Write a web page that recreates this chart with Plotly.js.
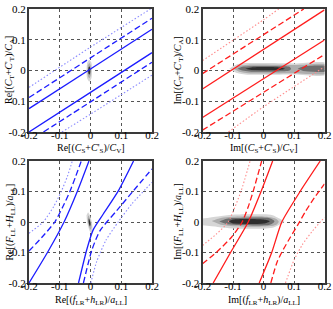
<!DOCTYPE html>
<html>
<head>
<meta charset="utf-8">
<script src="https://cdn.plot.ly/plotly-3.0.1.min.js"></script>
<style>html,body{margin:0;padding:0;background:#fff}#chart{width:333px;height:309px}</style>
</head>
<body>
<div id="chart"></div>
<script>
// ---------- tick labels ----------
const tickVals = [-0.2, -0.1, 0, 0.1, 0.2];
const tickText = ["-0.2", "-0.1", "0", "0.1", "0.2"];

// ---------- Panel 1: Re[(CS+CS')/CV] vs Re[(CT+CT')/CA] ----------
const p1SolidAx = [-0.2, 0, 0.2],     p1SolidAy = [-0.124, 0.005, 0.134];
const p1SolidBx = [-0.2, 0, 0.2],     p1SolidBy = [-0.2, -0.071, 0.058];
const p1DashAx  = [-0.2, 0, 0.2],     p1DashAy  = [-0.088, 0.041, 0.17];
const p1DashBx  = [-0.153, 0, 0.2],   p1DashBy  = [-0.2, -0.102, 0.027];
const p1DotAx   = [-0.2, 0, 0.195],   p1DotAy   = [-0.055, 0.076, 0.2];
const p1DotBx   = [-0.093, 0, 0.2],   p1DotBy   = [-0.2, -0.142, -0.015];
const p1BlobOutX = [-0.004, 0.003, 0.005, 0.003, -0.004, -0.011, -0.013, -0.011];
const p1BlobOutY = [0.036, 0.025, 0, -0.025, -0.036, -0.025, 0, 0.025];
const p1BlobMidX = [-0.004, 0.0005, 0.002, 0.0005, -0.004, -0.0085, -0.010, -0.0085];
const p1BlobMidY = [0.025, 0.017, 0, -0.017, -0.025, -0.017, 0, 0.017];
const p1BlobCoreX = [-0.004, -0.0015, -0.0005, -0.0015, -0.004, -0.0065, -0.0075, -0.0065];
const p1BlobCoreY = [0.014, 0.01, 0, -0.01, -0.014, -0.01, 0, 0.01];

// ---------- Panel 2: Im[(CS+CS')/CV] vs Im[(CT+CT')/CA] ----------
const p2SolidAx = [-0.2, 0.2],        p2SolidAy = [-0.06, 0.197];
const p2SolidBx = [-0.2, 0.2],        p2SolidBy = [-0.153, 0.099];
const p2DashAx  = [-0.2, 0.132],      p2DashAy  = [-0.01, 0.2];
const p2DashBx  = [-0.2, 0.2],        p2DashBy  = [-0.194, 0.052];
const p2DotAx   = [-0.2, 0, 0.05],    p2DotAy   = [0.032, 0.165, 0.2];
const p2DotBx   = [-0.115, 0, 0.2],   p2DotBy   = [-0.2, -0.118, 0.012];
const p2BlobOutX = [-0.112, -0.09, -0.06, 0.0, 0.1, 0.21, 0.21, 0.1, 0.0, -0.06, -0.09];
const p2BlobOutY = [0.006, 0.019, 0.024, 0.024, 0.023, 0.023, -0.013, -0.013, -0.014, -0.013, -0.007];
const p2BlobMidX = [-0.098, -0.08, -0.05, 0.1, 0.21, 0.21, 0.1, -0.05, -0.08];
const p2BlobMidY = [0.006, 0.015, 0.019, 0.018, 0.018, -0.009, -0.009, -0.009, -0.004];
const p2BlobDarkAX = [-0.085, -0.07, -0.04, 0.05, 0.085, 0.09, 0.085, 0.05, -0.04, -0.07];
const p2BlobDarkAY = [0.006, 0.012, 0.014, 0.014, 0.012, 0.006, 0.0, -0.003, -0.004, 0.0];
const p2BlobDarkBX = [0.112, 0.13, 0.21, 0.21, 0.13];
const p2BlobDarkBY = [0.006, 0.013, 0.013, -0.002, -0.002];
const p2BlobCoreX = [-0.06, -0.04, 0.05, 0.07, 0.05, -0.04];
const p2BlobCoreY = [0.006, 0.01, 0.01, 0.006, 0.002, 0.002];

// ---------- Panel 3: Re[(fLR+hLR)/aLL] vs Re[(FLL+HLL)/aLL] ----------
const p3SolidAx = [-0.2, -0.14, -0.086, -0.043, -0.005];
const p3SolidAy = [-0.2, -0.1, 0, 0.1, 0.2];
const p3SolidBx = [-0.039, -0.012, 0.009, 0.042, 0.091, 0.14];
const p3SolidBy = [-0.2, -0.09, -0.025, 0.027, 0.103, 0.2];
const p3DashAx  = [-0.2, -0.158, -0.116, -0.09, -0.067, -0.048, -0.03];
const p3DashAy  = [-0.095, -0.05, 0, 0.05, 0.1, 0.15, 0.2];
const p3DashBx  = [-0.023, 0.004, 0.031, 0.086, 0.14, 0.2];
const p3DashBy  = [-0.2, -0.093, -0.028, 0.038, 0.103, 0.174];
const p3DotAx   = [-0.2, -0.154, -0.12, -0.095, -0.075, -0.059];
const p3DotAy   = [-0.037, 0, 0.05, 0.1, 0.15, 0.2];
const p3DotBx   = [0.001, 0.02, 0.05, 0.09, 0.135, 0.2];
const p3DotBy   = [-0.2, -0.13, -0.06, 0.0, 0.06, 0.13];
const p3BlobOutX = [-0.008, -0.002, 0.005, 0.006, 0.002, -0.004, -0.011, -0.013];
const p3BlobOutY = [0.032, 0.022, -0.005, -0.025, -0.036, -0.026, 0.0, 0.022];
const p3BlobMidX = [-0.007, -0.003, 0.002, 0.003, 0.0, -0.004, -0.008, -0.009];
const p3BlobMidY = [0.022, 0.014, -0.004, -0.017, -0.025, -0.017, 0.0, 0.015];
const p3BlobCoreX = [-0.005, -0.003, 0.0, 0.0, -0.002, -0.004, -0.006, -0.006];
const p3BlobCoreY = [0.012, 0.007, -0.003, -0.01, -0.014, -0.009, 0.0, 0.008];

// ---------- Panel 4: Im[(fLR+hLR)/aLL] vs Im[(FLL+HLL)/aLL] ----------
const p4SolidAx = [-0.165, -0.108, -0.05, -0.008, 0.03];
const p4SolidAy = [-0.2, -0.1, 0, 0.1, 0.2];
const p4SolidBx = [-0.014, 0.027, 0.06, 0.12, 0.186];
const p4SolidBy = [-0.2, -0.1, 0, 0.1, 0.2];
const p4DashAx  = [-0.2, -0.155, -0.105, -0.07, -0.05, -0.034, -0.006];
const p4DashAy  = [-0.137, -0.1, -0.05, 0, 0.05, 0.1, 0.2];
const p4DashBx  = [0.024, 0.045, 0.065, 0.088, 0.112, 0.138, 0.167, 0.2];
const p4DashBy  = [-0.2, -0.13, -0.09, -0.05, -0.01, 0.035, 0.08, 0.125];
const p4DotAx   = [-0.2, -0.155, -0.116, -0.074, -0.044];
const p4DotAy   = [-0.077, -0.04, 0, 0.1, 0.2];
const p4DotBx   = [0.072, 0.1, 0.127, 0.16, 0.2];
const p4DotBy   = [-0.2, -0.125, -0.075, -0.03, 0.015];
const p4BlobOutX = [-0.21, -0.15, -0.1, 0.0, 0.03, 0.05, 0.068, 0.05, 0.03, 0.0, -0.1, -0.15, -0.21];
const p4BlobOutY = [0.01, 0.018, 0.024, 0.025, 0.022, 0.012, 0.001, -0.01, -0.019, -0.022, -0.021, -0.016, -0.01];
const p4BlobMidX = [-0.17, -0.14, -0.1, 0.0, 0.04, 0.05, 0.04, 0.0, -0.1, -0.14];
const p4BlobMidY = [0.003, 0.013, 0.017, 0.018, 0.011, 0.001, -0.01, -0.015, -0.014, -0.009];
const p4BlobDarkX = [-0.145, -0.12, -0.08, 0.02, 0.036, 0.02, -0.08, -0.12];
const p4BlobDarkY = [0.002, 0.011, 0.013, 0.012, 0.002, -0.009, -0.01, -0.007];
const p4BlobCoreX = [-0.115, -0.1, 0.0, 0.02, 0.0, -0.1];
const p4BlobCoreY = [0.002, 0.008, 0.008, 0.002, -0.005, -0.005];

// ---------- styling ----------
const blue = "#1c1cff", blueLight = "#8a8aff";
const red = "#ff1c1c", redLight = "#ff8c8c";
const gOut = "#d6d6d6", gMid = "#adadad", gDark = "#6e6e6e", gCore = "#2e2e2e";

function blob(x, y, color, ax) {
  return {x: x, y: y, type: "scatter", mode: "lines", fill: "toself", fillcolor: color,
    line: {color: color, width: 0, shape: "spline", smoothing: 0.8},
    xaxis: "x" + ax, yaxis: "y" + ax, hoverinfo: "skip", showlegend: false};
}
function curve(x, y, color, style, ax) {
  const ln = {color: color, width: 1.3, shape: "spline", smoothing: 0.6};
  if (style === "dash") ln.dash = "6px,3px";
  if (style === "dot") { ln.dash = "1.5px,2px"; ln.width = 1.1; }
  return {x: x, y: y, type: "scatter", mode: "lines", line: ln,
    xaxis: "x" + ax, yaxis: "y" + ax, hoverinfo: "skip", showlegend: false};
}
const A1 = "", A2 = "2", A3 = "3", A4 = "4";
const traces = [
  blob(p1BlobOutX, p1BlobOutY, gOut, A1), blob(p1BlobMidX, p1BlobMidY, gMid, A1), blob(p1BlobCoreX, p1BlobCoreY, gCore, A1),
  curve(p1DotAx, p1DotAy, blueLight, "dot", A1), curve(p1DotBx, p1DotBy, blueLight, "dot", A1),
  curve(p1DashAx, p1DashAy, blue, "dash", A1), curve(p1DashBx, p1DashBy, blue, "dash", A1),
  curve(p1SolidAx, p1SolidAy, blue, "solid", A1), curve(p1SolidBx, p1SolidBy, blue, "solid", A1),

  blob(p2BlobOutX, p2BlobOutY, gOut, A2), blob(p2BlobMidX, p2BlobMidY, gMid, A2),
  blob(p2BlobDarkAX, p2BlobDarkAY, gDark, A2), blob(p2BlobDarkBX, p2BlobDarkBY, gDark, A2), blob(p2BlobCoreX, p2BlobCoreY, gCore, A2),
  curve(p2DotAx, p2DotAy, redLight, "dot", A2), curve(p2DotBx, p2DotBy, redLight, "dot", A2),
  curve(p2DashAx, p2DashAy, red, "dash", A2), curve(p2DashBx, p2DashBy, red, "dash", A2),
  curve(p2SolidAx, p2SolidAy, red, "solid", A2), curve(p2SolidBx, p2SolidBy, red, "solid", A2),

  blob(p3BlobOutX, p3BlobOutY, gOut, A3), blob(p3BlobMidX, p3BlobMidY, gMid, A3), blob(p3BlobCoreX, p3BlobCoreY, gCore, A3),
  curve(p3DotAx, p3DotAy, blueLight, "dot", A3), curve(p3DotBx, p3DotBy, blueLight, "dot", A3),
  curve(p3DashAx, p3DashAy, blue, "dash", A3), curve(p3DashBx, p3DashBy, blue, "dash", A3),
  curve(p3SolidAx, p3SolidAy, blue, "solid", A3), curve(p3SolidBx, p3SolidBy, blue, "solid", A3),

  blob(p4BlobOutX, p4BlobOutY, gOut, A4), blob(p4BlobMidX, p4BlobMidY, gMid, A4),
  blob(p4BlobDarkX, p4BlobDarkY, gDark, A4), blob(p4BlobCoreX, p4BlobCoreY, gCore, A4),
  curve(p4DotAx, p4DotAy, redLight, "dot", A4), curve(p4DotBx, p4DotBy, redLight, "dot", A4),
  curve(p4DashAx, p4DashAy, red, "dash", A4), curve(p4DashBx, p4DashBy, red, "dash", A4),
  curve(p4SolidAx, p4SolidAy, red, "solid", A4), curve(p4SolidBx, p4SolidBy, red, "solid", A4)
];

const W = 333, H = 309;
const tickFont = {family: "Liberation Serif, Times New Roman, serif", size: 11, color: "#000"};
function axis(domain, anchor, isX) {
  return {domain: domain, anchor: anchor, range: [-0.2, 0.2], autorange: false,
    tickvals: tickVals, ticktext: tickText, tickfont: tickFont,
    ticklabelstandoff: isX ? -8 : -1,
    showgrid: true, gridcolor: "#555", griddash: "dot", gridwidth: 1, zeroline: false,
    showline: true, mirror: true, linecolor: "#3a3a3a", linewidth: 2,
    ticks: "", fixedrange: true};
}
const xL = [29 / W, 152 / W], xR = [202.5 / W, 324.5 / W];
const yT = [1 - 132 / H, 1 - 9 / H], yB = [1 - 283 / H, 1 - 161 / H];

const titleFont = {family: "Liberation Serif, Times New Roman, serif", size: 10, color: "#000"};
function ann(text, x, y, angle) {
  return {text: text, xref: "paper", yref: "paper", x: x / W, y: 1 - y / H,
    xanchor: "center", yanchor: "middle", showarrow: false, textangle: angle || 0, font: titleFont};
}
const C = (s) => "<i>C</i><sub>" + s + "</sub>";
const Cp = (s) => "<i>C</i>'<sub>" + s + "</sub>";
const annotations = [
  ann("Re[(" + C("S") + "+" + Cp("S") + ")/" + C("V") + "]", 90.5, 148),
  ann("Re[(" + C("T") + "+" + Cp("T") + ")/" + C("A") + "]", 9.5, 70.5, -90),
  ann("Im[(" + C("S") + "+" + Cp("S") + ")/" + C("V") + "]", 263.5, 148),
  ann("Im[(" + C("T") + "+" + Cp("T") + ")/" + C("A") + "]", 178, 70.5, -90),
  ann("Re[(<i>f</i><sub>LR</sub>+<i>h</i><sub>LR</sub>)/<i>a</i><sub>LL</sub>]", 90.5, 300),
  ann("Re[(<i>F</i><sub>LL</sub>+<i>H</i><sub>LL</sub>)/<i>a</i><sub>LL</sub>]", 9.5, 222, -90),
  ann("Im[(<i>f</i><sub>LR</sub>+<i>h</i><sub>LR</sub>)/<i>a</i><sub>LL</sub>]", 263.5, 300),
  ann("Im[(<i>F</i><sub>LL</sub>+<i>H</i><sub>LL</sub>)/<i>a</i><sub>LL</sub>]", 178, 222, -90)
];

const layout = {
  width: W, height: H, margin: {l: 0, r: 0, t: 0, b: 0},
  paper_bgcolor: "#fff", plot_bgcolor: "#fff", showlegend: false,
  xaxis: axis(xL, "y", true), yaxis: axis(yT, "x", false),
  xaxis2: axis(xR, "y2", true), yaxis2: axis(yT, "x2", false),
  xaxis3: axis(xL, "y3", true), yaxis3: axis(yB, "x3", false),
  xaxis4: axis(xR, "y4", true), yaxis4: axis(yB, "x4", false),
  annotations: annotations
};
Plotly.newPlot("chart", traces, layout, {staticPlot: true, displayModeBar: false});
</script>
</body>
</html>
